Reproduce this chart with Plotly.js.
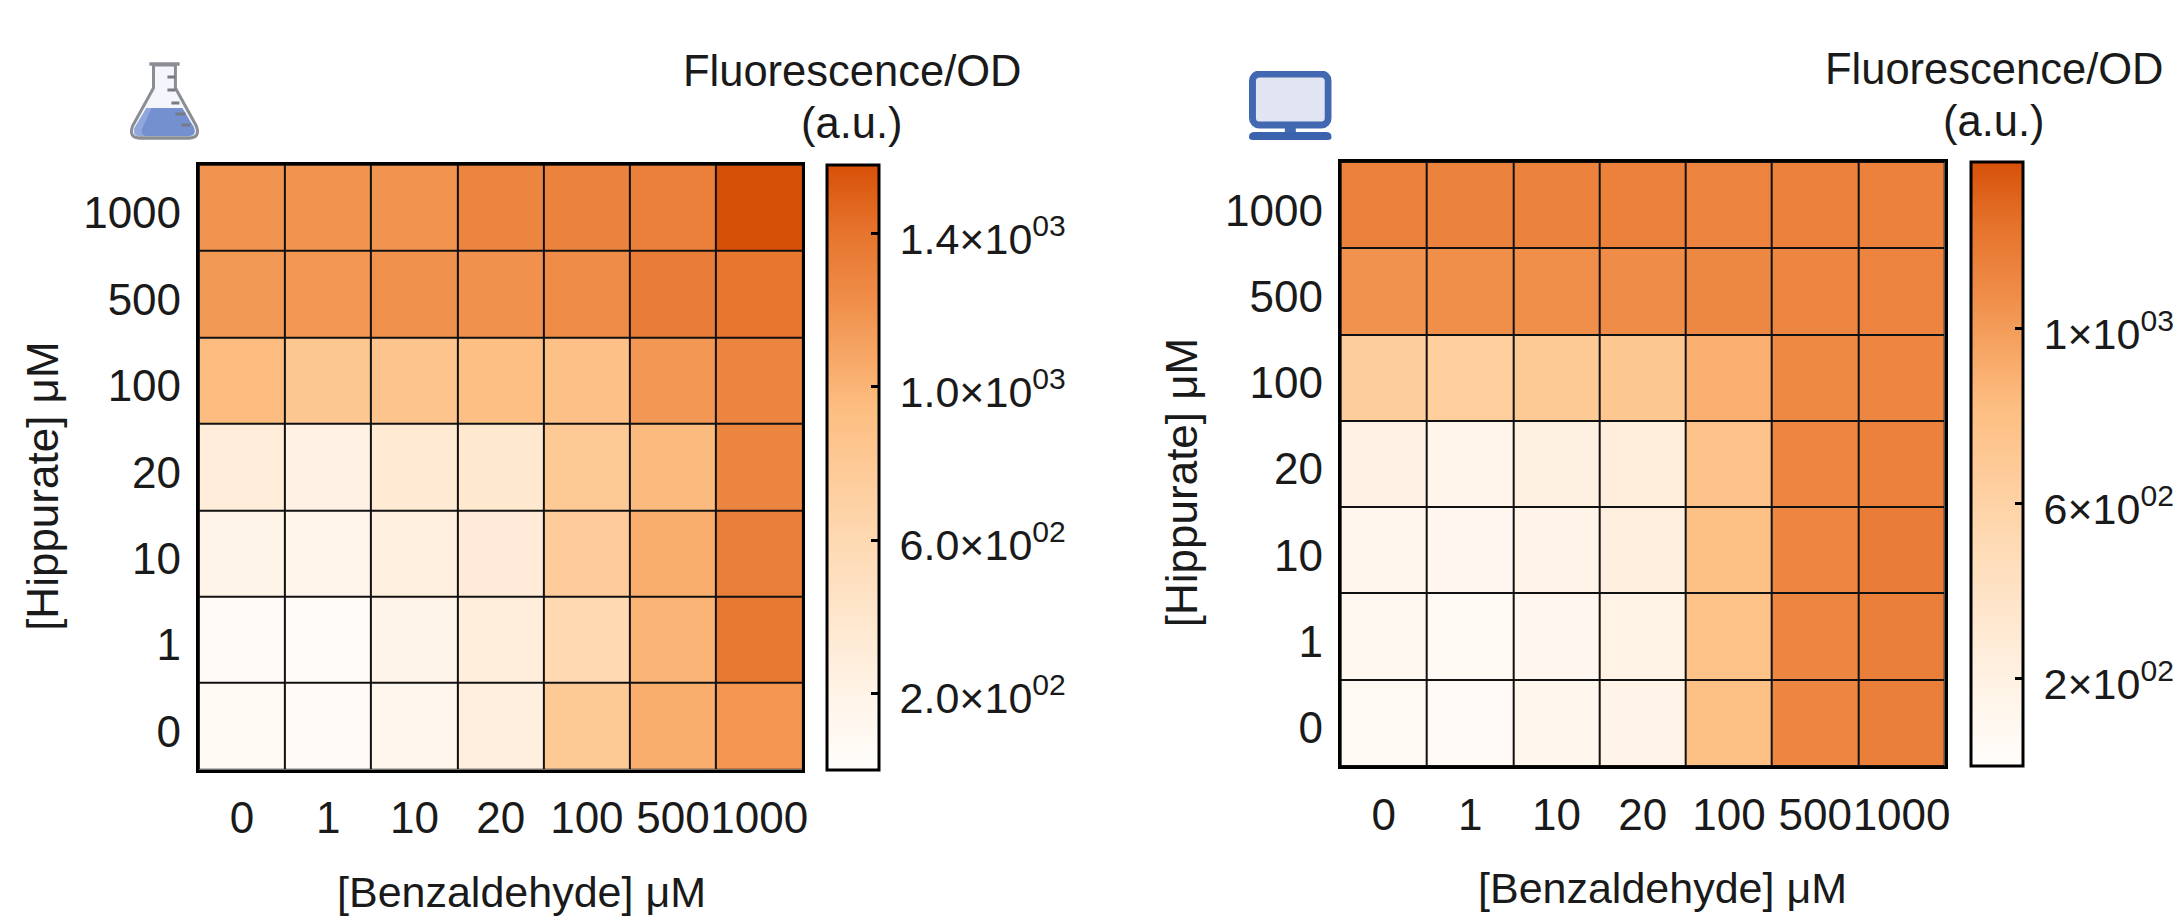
<!DOCTYPE html>
<html><head><meta charset="utf-8">
<script src="https://cdn.plot.ly/plotly-3.0.1.min.js"></script>
<style>html,body{margin:0;padding:0;background:#fff;overflow:hidden}</style>
</head><body><div id="chart" style="width:2175px;height:919px"></div>
<script>
const benzaldehyde = ['0','1','10','20','100','500','1000'];
const hippurate = ['0','1','10','20','100','500','1000'];
// rows run from Hippurate 0 (bottom) to 1000 (top)
const labValues = [
  [80,60,140,270,800,1040,1180],
  [60,40,180,280,600,1000,1370],
  [190,170,250,320,770,1040,1330],
  [300,220,340,370,800,960,1290],
  [950,830,860,920,900,1170,1290],
  [1160,1170,1210,1210,1240,1340,1390],
  [1190,1190,1190,1290,1300,1320,1580]
];
const simValues = [
  [70,50,110,170,800,1120,1160],
  [90,60,100,180,780,1120,1160],
  [120,100,170,230,790,1120,1170],
  [190,140,210,250,770,1120,1150],
  [660,650,700,720,900,1100,1120],
  [1050,1070,1070,1080,1110,1120,1130],
  [1150,1140,1140,1150,1130,1150,1150]
];
const labTicks = [200,600,1000,1400];
const labTickText = ['2.0×10<sup>02</sup>','6.0×10<sup>02</sup>','1.0×10<sup>03</sup>','1.4×10<sup>03</sup>'];
const simTicks = [200,600,1000];
const simTickText = ['2×10<sup>02</sup>','6×10<sup>02</sup>','1×10<sup>03</sup>'];
const labRange = [0,1581];
const simRange = [0,1382];
const orange = [[0,'#fffdfb'],[0.13,'#fff3e6'],[0.38,'#fed9b2'],[0.6,'#fdbd80'],[0.78,'#ef8d48'],[0.9,'#e5712a'],[1,'#d75008']];

const W=2175,H=919,FONT='"Liberation Sans",Arial,sans-serif',FS=44;
const px=x=>x/W, py=y=>1-y/H;
const flask='<svg xmlns="http://www.w3.org/2000/svg" viewBox="0 0 70 78"><path d="M20 2H50M24 3V26L3 64Q-1 75 9 76H61Q71 75 67 64L46 26V3Z" fill="#f4f6fb" stroke="#8a8d94" stroke-width="3" stroke-linejoin="round"/><path d="M17 46H53L65 66Q67 74 60 74H10Q3 74 5 66Z" fill="#7590cf"/><path d="M5 66L17 46H22L12 68Q12 74 18 74H10Q3 74 5 66Z" fill="#8fa7dc"/><path d="M38 15H46M38 28H46M42 41H50M46 52H56M52 63H61" stroke="#777b84" stroke-width="3"/><path d="M20 2H50M9 76H61" stroke="#8a8d94" stroke-width="3"/></svg>';
const monitor='<svg xmlns="http://www.w3.org/2000/svg" viewBox="0 0 83 69"><rect x="3.5" y="3" width="76" height="51" rx="7" fill="#e0e5f1" stroke="#4168b1" stroke-width="7"/><rect x="36" y="55" width="11" height="9" fill="#4168b1"/><path d="M6 61H77Q83 61 83 66Q83 69 79 69H4Q0 69 0 66Q0 61 6 61Z" fill="#3a62ad"/></svg>';
const uri=s=>'data:image/svg+xml;utf8,'+encodeURIComponent(s);

function panel(i,z,zr,tv,tt,g){
  const ax=i===0?'':'2';
  return {type:'heatmap',x:benzaldehyde,y:hippurate,z:z,zmin:zr[0],zmax:zr[1],colorscale:orange,
    xaxis:'x'+ax,yaxis:'y'+ax,xgap:2,ygap:2,hoverongaps:false,
    colorbar:{x:px(g.cb0),xanchor:'left',y:py(g.b),yanchor:'bottom',len:g.b-g.t,lenmode:'pixels',
      thickness:g.cb1-g.cb0,thicknessmode:'pixels',outlinecolor:'#000',outlinewidth:3,xpad:0,ypad:0,
      tickmode:'array',tickvals:tv,ticktext:tt,ticks:'inside',ticklen:9,tickwidth:3,tickcolor:'#000',
      ticklabelposition:'outside',tickfont:{family:FONT,size:43,color:'#1a1a1a'}}};
}
const g1={x0:199.5,x1:805,t:164.7,b:769.6,cb0:830,cb1:882};
const g2={x0:1345,x1:1951,t:162,b:766,cb0:1977,cb1:2029};
function axes(g){
  const common={type:'category',showgrid:false,zeroline:false,showline:true,linecolor:'#000',linewidth:3,mirror:true,ticks:'',tickangle:0,
    tickfont:{family:FONT,size:FS,color:'#1a1a1a'},fixedrange:true};
  return [
    Object.assign({},common,{domain:[px(g.x0),px(g.x1)],ticklabelstandoff:8}),
    Object.assign({},common,{domain:[py(g.b),py(g.t)],ticklabelstandoff:6,ticklabelshift:5})
  ];
}
const [xa1,ya1]=axes(g1),[xa2,ya2]=axes(g2);
xa2.anchor='y2';ya2.anchor='x2';
const note=(text,x,y,size,extra)=>Object.assign({text,xref:'paper',yref:'paper',x:px(x),y:py(y),xanchor:'center',yanchor:'middle',showarrow:false,
  font:{family:FONT,size:size,color:'#1a1a1a'}},extra||{});
// left-edge colorbar tick marks, placed from the same scale as the colorbar
function sideTicks(g,zr,tv){
  return tv.map(v=>{
    const y=g.b-(v-zr[0])/(zr[1]-zr[0])*(g.b-g.t);
    return {type:'line',xref:'paper',yref:'paper',x0:px(g.cb0),x1:px(g.cb0+9),y0:py(y),y1:py(y),line:{color:'#000',width:3}};
  });
}
const layout={width:W,height:H,margin:{l:0,r:0,t:0,b:0},paper_bgcolor:'#fff',plot_bgcolor:'#111',
  font:{family:FONT,size:FS,color:'#1a1a1a'},
  xaxis:xa1,yaxis:ya1,xaxis2:xa2,yaxis2:ya2,
  shapes:sideTicks(g1,labRange,labTicks).concat(sideTicks(g2,simRange,simTicks)),
  annotations:[
    note('Fluorescence/OD',855,71,43.5),note('(a.u.)',855,123,43.5),
    note('Fluorescence/OD',2000,69,43.5),note('(a.u.)',2000,121,43.5),
    note('[Benzaldehyde] μM',523,892,43),note('[Benzaldehyde] μM',1668,888,43),
    note('[Hippurate] μM',42,486,44,{textangle:-90}),note('[Hippurate] μM',1186,483,44,{textangle:-90})
  ],
  images:[
    {source:uri(flask),xref:'paper',yref:'paper',x:px(130),y:py(62),sizex:70/W,sizey:78/H,xanchor:'left',yanchor:'top',sizing:'stretch',layer:'above'},
    {source:uri(monitor),xref:'paper',yref:'paper',x:px(1253),y:py(71),sizex:83/W,sizey:69/H,xanchor:'left',yanchor:'top',sizing:'stretch',layer:'above'}
  ],
  showlegend:false};
Plotly.newPlot('chart',[panel(0,labValues,labRange,labTicks,labTickText,g1),panel(1,simValues,simRange,simTicks,simTickText,g2)],layout,{displayModeBar:false,responsive:false}).then(()=>{
  // the reference sets its colorbar labels slightly further out and lower than the library's default
  document.querySelectorAll('.colorbar g[class*="tick"] > text').forEach(t=>t.parentNode.setAttribute('transform','translate(10,5)'));
});
</script></body></html>
